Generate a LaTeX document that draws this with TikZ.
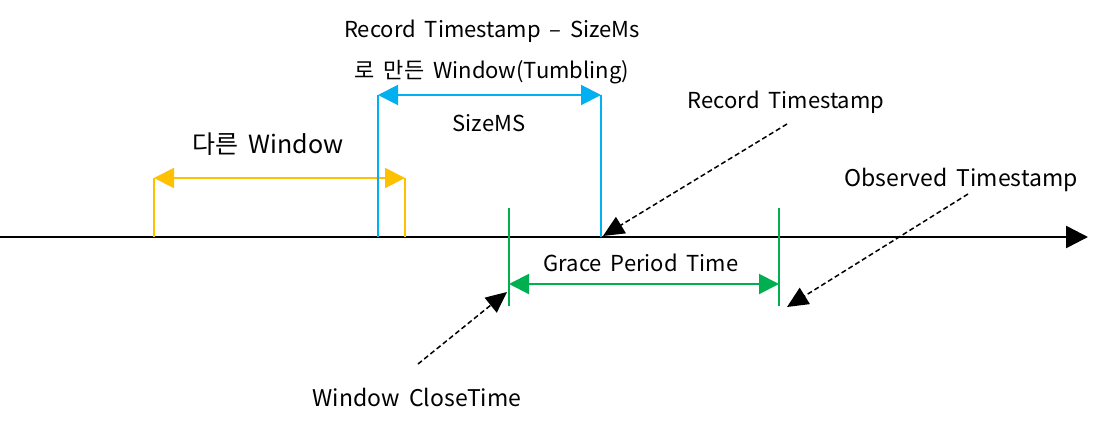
\documentclass[tikz,border=0pt]{standalone}
\usepackage{fontspec}
\setmainfont[WordSpace=1.8]{Noto Sans CJK KR}
\usetikzlibrary{arrows.meta}
\definecolor{cyel}{HTML}{FFC000}
\definecolor{cblu}{HTML}{00B0F0}
\definecolor{cgrn}{HTML}{00B050}
\begin{document}
\begin{tikzpicture}[x=1pt,y=-1pt,
  lbl/.style={inner sep=0pt,font=\fontsize{22}{26}\selectfont},
  widelbl/.style={inner sep=0pt,font=\fontsize{23}{27}\selectfont},
  biglbl/.style={inner sep=0pt,font=\fontsize{25}{29}\selectfont},
  dim/.style={line width=2pt,{Triangle[length=20pt,width=20pt]}-{Triangle[length=20pt,width=20pt]}},
  tick/.style={line width=2pt},
  callout/.style={line width=1.5pt,dashed,dash pattern=on 5pt off 3pt,-{Triangle[length=21pt,width=19pt]}}]
\useasboundingbox (0,0) rectangle (1108,426);
% axis
\coordinate (ax0) at (0,237);
\coordinate (ax1) at (1088,237);
\draw[line width=2.5pt,-{Triangle[length=22pt,width=22pt]}] (ax0) -- (ax1);
% yellow window
\coordinate (y1b) at (154,237); \coordinate (y1t) at (154,178);
\coordinate (y2b) at (405,237); \coordinate (y2t) at (405,178);
\draw[tick,cyel] (y1b) -- (y1t);
\draw[tick,cyel] (y2b) -- (y2t);
\draw[dim,cyel] (y1t) -- (y2t);
\node[biglbl] (ylab) at (268,144) {다른 Window};
% blue window
\coordinate (b1b) at (378,237); \coordinate (b1t) at (378,95);
\coordinate (b2b) at (601,237); \coordinate (b2t) at (601,95);
\draw[tick,cblu] (b1b) -- (b1t);
\draw[tick,cblu] (b2b) -- (b2t);
\draw[dim,cblu] (b1t) -- (b2t);
\node[lbl] (bl1) at (492,31) {Record Timestamp – SizeMs};
\node[lbl] (bl2) at (492,72) {로 만든 Window(Tumbling)};
\node[lbl] (bsz) at (489,123) {SizeMS};
% green grace
\coordinate (g1t) at (509,208); \coordinate (g1b) at (509,306);
\coordinate (g2t) at (779,208); \coordinate (g2b) at (779,306);
\coordinate (g1m) at (509,284); \coordinate (g2m) at (779,284);
\draw[tick,cgrn] (g1t) -- (g1b);
\draw[tick,cgrn] (g2t) -- (g2b);
\draw[dim,cgrn] (g1m) -- (g2m);
\node[lbl] (glab) at (641,263) {Grace Period Time};
% callouts
\node[lbl] (rts) at (786,102) {Record Timestamp};
\coordinate (rtsA) at (787,124); \coordinate (rtsB) at (603,236);
\draw[callout] (rtsA) -- (rtsB);
\node[widelbl] (ots) at (961,180) {Observed Timestamp};
\coordinate (otsA) at (968,194); \coordinate (otsB) at (787,307);
\draw[callout] (otsA) -- (otsB);
\node[widelbl] (wct) at (417,397) {Window CloseTime};
\coordinate (wctA) at (418,364); \coordinate (wctB) at (507,292);
\draw[callout] (wctA) -- (wctB);
\end{tikzpicture}
\end{document}
